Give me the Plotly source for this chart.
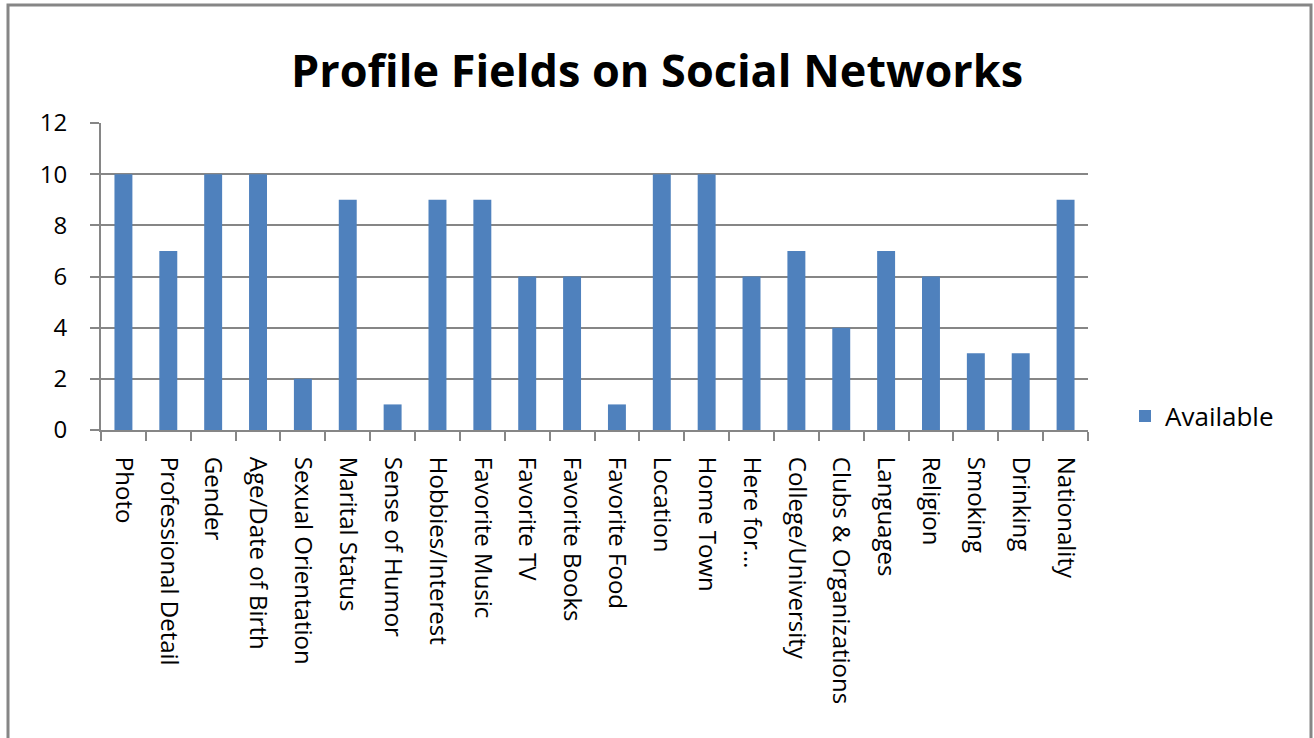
import plotly.graph_objects as go

categories = ["Photo", "Professional Detail", "Gender", "Age/Date of Birth",
              "Sexual Orientation", "Marital Status", "Sense of Humor",
              "Hobbies/Interest", "Favorite Music", "Favorite TV", "Favorite Books",
              "Favorite Food", "Location", "Home Town", "Here for…",
              "College/University", "Clubs & Organizations", "Languages",
              "Religion", "Smoking", "Drinking", "Nationality"]
available = [10, 7, 10, 10, 2, 9, 1, 9, 9, 6, 6, 1, 10, 10, 6, 7, 4, 7, 6, 3, 3, 9]
series_name = "Available"
title_text = "Profile Fields on Social Networks"
y_ticks = [0, 2, 4, 6, 8, 10, 12]

FONT = "'Open Sans', Carlito, Calibri, sans-serif"
GRID = "#868686"

fig = go.Figure()
fig.add_trace(go.Bar(x=categories, y=available, name=series_name,
                     marker=dict(color="#4F81BD", line=dict(width=0)),
                     width=0.4, showlegend=True))

L, R, T, B = 101, 1088, 123, 430
W, H = 1314, 738
pw, ph = R - L, B - T

def px_x(x):
    return (x - L) / pw

def px_y(y):
    return (B - y) / ph

fig.update_layout(
    width=W, height=H,
    margin=dict(l=L, r=W - R, t=T, b=H - B),
    paper_bgcolor="white", plot_bgcolor="white",
    font=dict(family=FONT, color="black", size=22),
    title=dict(text="<b>" + title_text + "</b>", x=0.5, xref="container",
               y=1 - 71 / H, yref="container", xanchor="center", yanchor="middle",
               font=dict(family=FONT, size=45, color="black")),
    showlegend=True,
    legend=dict(x=px_x(1125), y=px_y(416), xanchor="left", yanchor="middle",
                font=dict(family=FONT, size=26, color="black"),
                bgcolor="rgba(0,0,0,0)", itemwidth=30),
    bargap=0.6,
)
fig.update_xaxes(type="category", showline=True, linecolor=GRID, linewidth=2,
                 ticks="outside", tickson="boundaries", ticklen=9, tickcolor=GRID,
                 tickwidth=2, tickangle=90, showgrid=False, ticklabelstandoff=20,
                 tickfont=dict(family=FONT, size=24, color="black"))
fig.update_yaxes(range=[0, 12], tickvals=y_ticks, showgrid=True, gridcolor=GRID,
                 gridwidth=2, showline=True, linecolor=GRID, linewidth=2,
                 ticks="outside", ticklen=9, tickcolor=GRID, tickwidth=2,
                 zeroline=False, ticklabelstandoff=18,
                 tickfont=dict(family=FONT, size=24, color="black"))

fig.add_shape(type="rect", xref="paper", yref="paper",
              x0=px_x(8), x1=px_x(1311), y0=px_y(760), y1=px_y(5),
              line=dict(color=GRID, width=3), fillcolor="rgba(0,0,0,0)", layer="below")

fig.write_html("out.html", config={"displayModeBar": False},
               post_script="document.body.style.margin='0';document.body.style.overflow='hidden';")
